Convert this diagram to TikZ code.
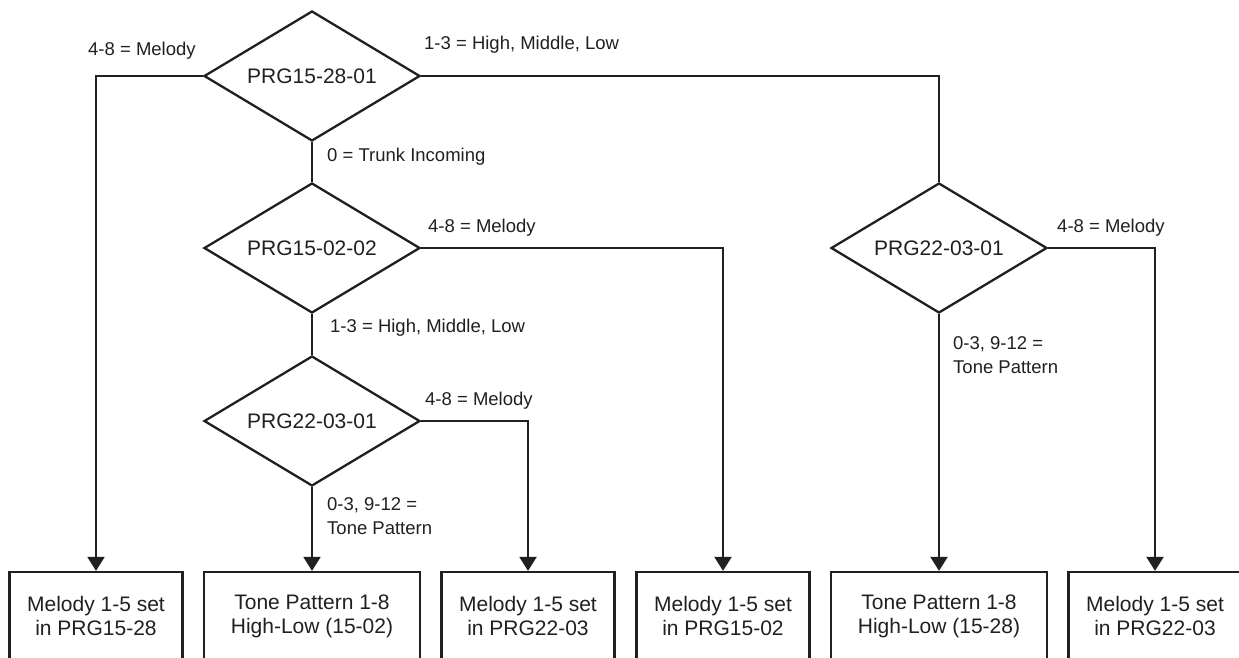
\documentclass[tikz,border=0pt]{standalone}
\usepackage{fontspec}
\setmainfont{Liberation Sans}
\usetikzlibrary{shapes.geometric,arrows.meta}
\definecolor{ink}{RGB}{35,31,32}
\begin{document}
\begin{tikzpicture}[x=1pt,y=-1pt,
  dec/.style={diamond, draw=ink, line width=2.3pt, aspect=1.66, minimum width=216pt, minimum height=130pt, inner sep=0pt, font=\fontsize{21}{24}\selectfont, text=ink},
  outbox/.style={rectangle, draw=ink, line width=2.3pt, minimum height=88pt, inner sep=0pt, align=center, font=\fontsize{21}{24}\selectfont, text=ink},
  smallbox/.style={outbox, minimum width=173pt},
  bigbox/.style={outbox, minimum width=216pt},
  lbl/.style={anchor=west, inner sep=0pt, font=\fontsize{18.5}{23.5}\selectfont, text=ink, align=left},
  conn/.style={draw=ink, line width=2.3pt},
  arr/.style={conn, -{Triangle[length=14pt,width=17pt]}}]
\useasboundingbox (0,0) rectangle (1239,657);
\clip (0,0) rectangle (1239,657);
\fill[white] (0,0) rectangle (1239,657);

% decisions
\node[dec] (d1) at (312,76) {PRG15-28-01};
\node[dec] (d2) at (312,248) {PRG15-02-02};
\node[dec] (d3) at (312,421) {PRG22-03-01};
\node[dec] (d4) at (939,248) {PRG22-03-01};

% results
\node[smallbox] (b1) at (96,616) {Melody 1-5 set\\in PRG15-28};
\node[bigbox]   (b2) at (312,616) {Tone Pattern 1-8\\High-Low (15-02)};
\node[smallbox] (b3) at (528,616) {Melody 1-5 set\\in PRG22-03};
\node[smallbox] (b4) at (723,616) {Melody 1-5 set\\in PRG15-02};
\node[bigbox]   (b5) at (939,616) {Tone Pattern 1-8\\High-Low (15-28)};
\node[smallbox] (b6) at (1155,616) {Melody 1-5 set\\in PRG22-03};

% connectors
\draw[arr]  (d1.west) -| (b1.north);
\draw[conn] (d1.east) -| (d4.north);
\draw[conn] (d1.south) -- (d2.north);
\draw[arr]  (d2.east) -| (b4.north);
\draw[conn] (d2.south) -- (d3.north);
\draw[arr]  (d3.east) -| (b3.north);
\draw[arr]  (d3.south) -- (b2.north);
\draw[arr]  (d4.east) -| (b6.north);
\draw[arr]  (d4.south) -- (b5.north);

% labels
\node[lbl] (l1) at (88,51) {4-8 = Melody};
\node[lbl] (l2) at (424,45) {1-3 = High, Middle, Low};
\node[lbl] (l3) at (327,157) {0 = Trunk Incoming};
\node[lbl] (l4) at (428,228) {4-8 = Melody};
\node[lbl] (l5) at (330,328) {1-3 = High, Middle, Low};
\node[lbl] (l6) at (425,401) {4-8 = Melody};
\node[lbl] (l7) at (327,516) {0-3, 9-12 =\\Tone Pattern};
\node[lbl] (l8) at (1057,228) {4-8 = Melody};
\node[lbl] (l9) at (953,355) {0-3, 9-12 =\\Tone Pattern};
\end{tikzpicture}
\end{document}
